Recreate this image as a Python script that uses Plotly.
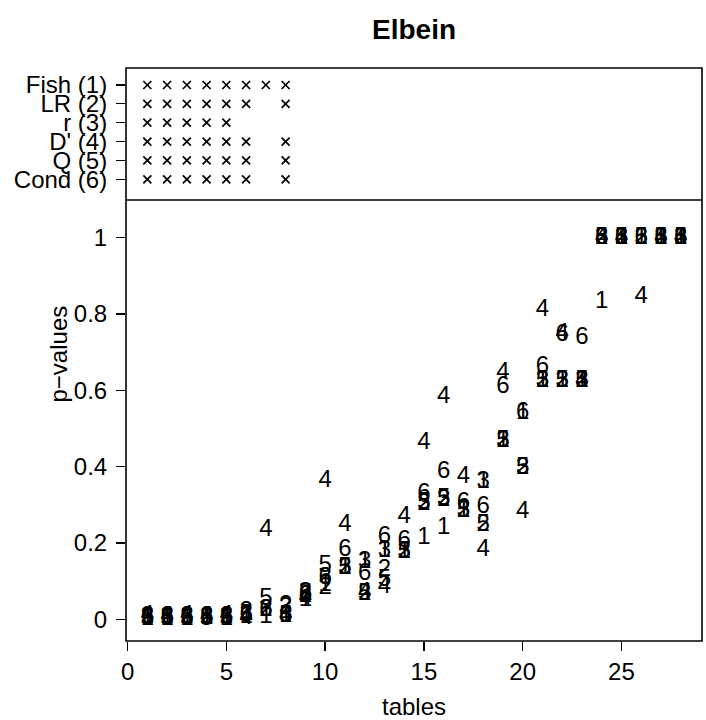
import plotly.graph_objects as go

tables = list(range(1, 29))
methods = ["Fish (1)", "LR (2)", "r (3)", "D' (4)", "Q (5)", "Cond (6)"]
codes = ["1", "2", "3", "4", "5", "6"]

# p-values per method (tables 1..28)
p_fish = [0.000, 0.002, 0.000, 0.003, 0.001, 0.005, 0.006, 0.008, 0.050, 0.090,
          0.135, 0.150, 0.180, 0.176, 0.213, 0.240, 0.284, 0.360, 0.468, 0.541,
          0.624, 0.624, 0.624, 0.832, 1.000, 1.000, 1.000, 1.000]
p_lr = [0.005, 0.006, 0.005, 0.006, 0.006, 0.020, 0.024, 0.035, 0.060, 0.082,
        0.135, 0.065, 0.129, 0.176, 0.302, 0.313, 0.284, 0.247, 0.468, 0.397,
        0.624, 0.624, 0.624, 1.000, 1.000, 1.000, 1.000, 1.000]
p_r = [0.003, 0.004, 0.003, 0.004, 0.004, 0.010, 0.024, 0.030, 0.070, 0.108,
       0.135, 0.150, 0.179, 0.176, 0.302, 0.313, 0.284, 0.360, 0.468, 0.397,
       0.624, 0.624, 0.624, 1.000, 1.000, 1.000, 1.000, 1.000]
p_dprime = [0.008, 0.007, 0.008, 0.007, 0.008, 0.003, 0.234, 0.008, 0.055, 0.362,
            0.247, 0.070, 0.085, 0.268, 0.462, 0.583, 0.373, 0.182, 0.645, 0.281,
            0.811, 0.748, 0.624, 1.000, 1.000, 0.845, 1.000, 1.000]
p_q = [0.001, 0.001, 0.001, 0.001, 0.001, 0.008, 0.053, 0.008, 0.065, 0.140,
       0.135, 0.065, 0.103, 0.176, 0.305, 0.315, 0.284, 0.247, 0.468, 0.397,
       0.624, 0.624, 0.624, 1.000, 1.000, 1.000, 1.000, 1.000]
p_cond = [0.006, 0.005, 0.006, 0.005, 0.006, 0.012, 0.024, 0.008, 0.060, 0.108,
          0.182, 0.119, 0.216, 0.205, 0.328, 0.387, 0.305, 0.295, 0.610, 0.541,
          0.662, 0.745, 0.736, 1.000, 1.000, 1.000, 1.000, 1.000]
pvals = [p_fish, p_lr, p_r, p_dprime, p_q, p_cond]

# tables flagged (x marks) in the top strip, per method
flag_fish = [1, 2, 3, 4, 5, 6, 7, 8]
flag_lr = [1, 2, 3, 4, 5, 6, 8]
flag_r = [1, 2, 3, 4, 5]
flag_dprime = [1, 2, 3, 4, 5, 6, 8]
flag_q = [1, 2, 3, 4, 5, 6, 8]
flag_cond = [1, 2, 3, 4, 5, 6, 8]
flags = [flag_fish, flag_lr, flag_r, flag_dprime, flag_q, flag_cond]

xticks = [0, 5, 10, 15, 20, 25]
yticks = [0, 0.2, 0.4, 0.6, 0.8, 1]
yticklabels = ["0", "0.2", "0.4", "0.6", "0.8", "1"]

FONT = "Liberation Sans, Arial, Helvetica, sans-serif"
W, H = 706, 720
ML, MR, MT, MB = 126, 4, 68, 79
PH = H - MT - MB
split = (641 - 200) / PH

fig = go.Figure()

for i, (code, vals) in enumerate(zip(codes, pvals)):
    fig.add_trace(go.Scatter(
        x=tables, y=vals, mode="text", text=[code] * len(tables),
        textposition="middle center",
        textfont=dict(family=FONT, size=24, color="black"),
        xaxis="x", yaxis="y", showlegend=False, hoverinfo="skip"))

for i, fl in enumerate(flags):
    row = 6 - i
    fig.add_trace(go.Scatter(
        x=fl, y=[row] * len(fl), mode="markers",
        marker=dict(symbol="x-thin", size=8, color="black",
                    line=dict(width=1.7, color="black")),
        xaxis="x", yaxis="y2", showlegend=False, hoverinfo="skip"))

axis_common = dict(showgrid=False, zeroline=False, showline=False, automargin=False,
                   ticks="outside", ticklen=9, tickwidth=1.3, tickcolor="black",
                   tickfont=dict(family=FONT, size=24, color="black"))

fig.update_layout(
    template="none",
    width=W, height=H,
    margin=dict(l=ML, r=MR, t=MT, b=MB, autoexpand=False),
    paper_bgcolor="white", plot_bgcolor="white",
    xaxis=dict(range=[-0.08, 29.08], tickvals=xticks, anchor="y", **axis_common),
    yaxis=dict(domain=[0, split], range=[-0.0569, 1.0988], tickvals=yticks,
               ticktext=yticklabels, anchor="x", ticklabelstandoff=4, **axis_common),
    yaxis2=dict(domain=[split, 1], range=[-0.098, 6.9], tickvals=[6, 5, 4, 3, 2, 1],
                ticktext=methods, anchor="x", ticklabelstandoff=4, **axis_common),
    shapes=[
        dict(type="rect", xref="paper", yref="paper", x0=0, x1=1, y0=0, y1=1,
             line=dict(color="black", width=1.6)),
        dict(type="line", xref="paper", yref="paper", x0=0, x1=1, y0=split, y1=split,
             line=dict(color="black", width=1.6)),
    ],
    annotations=[
        dict(text="<b>Elbein</b>", xref="paper", yref="paper", x=0.5,
             y=1 + (MT - 30) / PH, xanchor="center", yanchor="middle", showarrow=False,
             font=dict(family=FONT, size=28, color="black")),
        dict(text="tables", xref="paper", yref="paper", x=0.5,
             y=(641 - 706) / PH, xanchor="center", yanchor="middle", showarrow=False,
             font=dict(family=FONT, size=24, color="black")),
        dict(text="p\u2212values", xref="paper", yref="paper", x=(58 - ML) / (W - ML - MR),
             y=(641 - 354.5) / PH, xanchor="center", yanchor="middle", showarrow=False,
             textangle=-90, font=dict(family=FONT, size=24, color="black")),
    ],
)

fig.write_html("out.html", config={"displayModeBar": False, "staticPlot": True},
               post_script="document.body.style.margin='0';document.body.style.overflow='hidden';")
